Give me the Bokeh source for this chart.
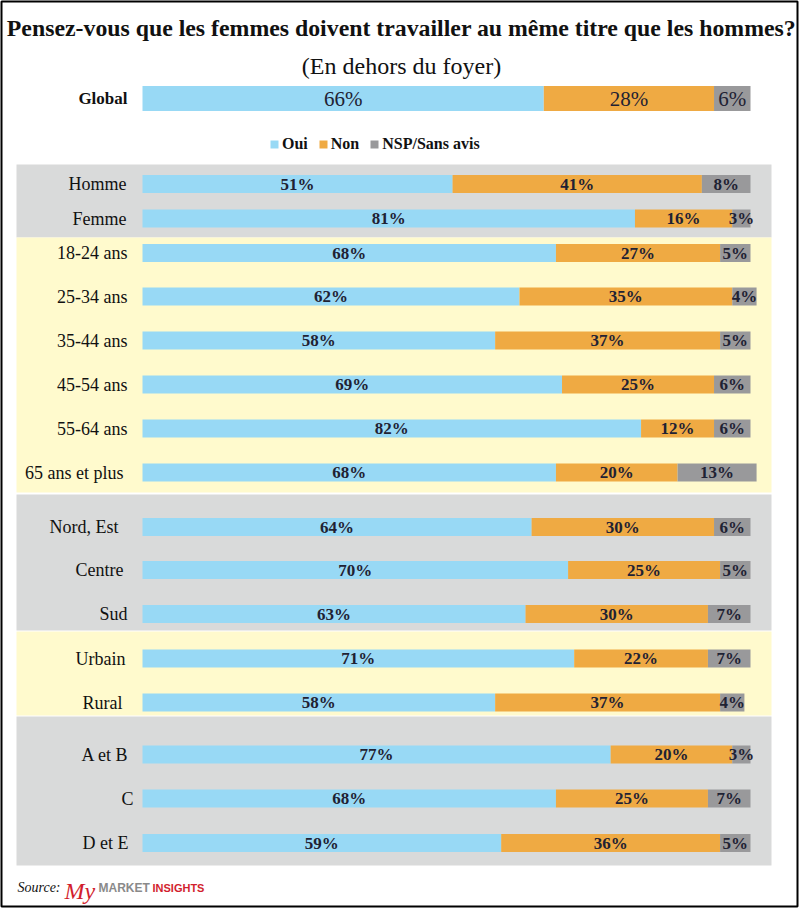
from bokeh.plotting import figure
from bokeh.models import Range1d, Label, ColumnDataSource, Legend, LegendItem
from bokeh.embed import file_html
from bokeh.resources import INLINE
from bokeh.core.properties import value

# ---------------- data ----------------
categories = ["Global", "Homme", "Femme", "18-24 ans", "25-34 ans", "35-44 ans",
              "45-54 ans", "55-64 ans", "65 ans et plus", "Nord, Est", "Centre",
              "Sud", "Urbain", "Rural", "A et B", "C", "D et E"]
oui = [66, 51, 81, 68, 62, 58, 69, 82, 68, 64, 70, 63, 71, 58, 77, 68, 59]
non = [28, 41, 16, 27, 35, 37, 25, 12, 20, 30, 25, 30, 22, 37, 20, 25, 36]
nsp = [6, 8, 3, 5, 4, 5, 6, 6, 13, 6, 5, 7, 7, 4, 3, 7, 5]
series_names = ["Oui", "Non", "NSP/Sans avis"]

title = "Pensez-vous que les femmes doivent travailler au même titre que les hommes?"
subtitle = "(En dehors du foyer)"

# ---------------- layout / styles ----------------
W, H = 800, 908
row_y = [98, 183.5, 218, 252.5, 296, 340, 384, 428, 472, 526.5, 569.5, 613.5,
         658, 702, 754, 798, 842.5]
label_end_px = [127, 126, 126, 127, 127, 127, 127, 127, 123, 118, 123, 127,
                125, 122, 128, 133, 128]
bar_h = [25] + [18] * 16
band_y = [(164, 237), (237, 492), (494, 630), (631, 715), (716, 865)]
band_colors = ["#D9DADA", "#FFFACD", "#D9DADA", "#FFFACD", "#D9DADA"]
colors = ["#98D9F5", "#EFAA43", "#99999B"]
PX_PER_PCT = 6.08
ZERO_PX = 142
FL, FR, FT, FB = 1, 3, 1, 2   # frame borders
SERIF_NAME = "Liberation Serif"
SANS_NAME = "Liberation Sans"
SERIF = value(SERIF_NAME)
TXT = "#1f2233"

frame_w = W - FL - FR
x_start = -(ZERO_PX - FL) / PX_PER_PCT
x_end = x_start + frame_w / PX_PER_PCT


def px2x(px):
    return x_start + (px - FL) / PX_PER_PCT


p = figure(width=W, height=H, output_backend="svg", toolbar_location=None,
           x_range=Range1d(x_start, x_end), y_range=Range1d(H - FB, FT),
           min_border_left=FL, min_border_right=FR, min_border_top=FT,
           min_border_bottom=FB, tools="")
p.axis.visible = False
p.grid.visible = False
p.outline_line_color = "black"
p.outline_line_width = 2
p.background_fill_color = "white"
p.border_fill_color = "white"

# background bands
p.quad(left=[px2x(16)] * len(band_y), right=[px2x(771)] * len(band_y),
       top=[b[0] for b in band_y], bottom=[b[1] for b in band_y],
       fill_color=band_colors, line_color=None)

# stacked bars
lefts = [[0] * len(oui), oui, [a + b for a, b in zip(oui, non)]]
vals = [oui, non, nsp]
renderers = []
for left, v, c in zip(lefts, vals, colors):
    src = ColumnDataSource(dict(y=row_y, left=left,
                                right=[l + x for l, x in zip(left, v)],
                                h=bar_h))
    r = p.hbar(y="y", left="left", right="right", height="h", source=src,
               fill_color=c, line_color=None)
    renderers.append(r)

# value labels
for left, v in zip(lefts, vals):
    xs = [l + x / 2 for l, x in zip(left, v)]
    txt = [f"{x}%" for x in v]
    p.text(x=xs[1:], y=row_y[1:], text=txt[1:], text_font=SERIF,
           text_font_style="bold", text_font_size="17px", text_color=TXT,
           text_align="center", text_baseline="middle")
    p.text(x=xs[:1], y=row_y[:1], text=txt[:1], text_font=SERIF,
           text_font_size="21px", text_color=TXT,
           text_align="center", text_baseline="middle")

# category labels
lx = [px2x(e) for e in label_end_px]
p.text(x=lx[1:], y=row_y[1:], text=categories[1:], text_font=SERIF,
       text_font_size="18px", text_color="#111111", text_align="right",
       text_baseline="middle")
p.text(x=lx[:1], y=row_y[:1], text=categories[:1], text_font=SERIF,
       text_font_style="bold", text_font_size="17px", text_color="#111111",
       text_align="right", text_baseline="middle")

# titles
p.add_layout(Label(x=W / 2, y=H - 29, x_units="screen", y_units="screen",
                   text=title, text_font=SERIF_NAME, text_font_style="bold",
                   text_font_size="23.8px", text_color="#111111",
                   text_align="center", text_baseline="middle"))
p.add_layout(Label(x=W / 2, y=H - 67, x_units="screen", y_units="screen",
                   text=subtitle, text_font=SERIF_NAME, text_font_size="24px",
                   text_color="#111111", text_align="center",
                   text_baseline="middle"))

# legend
legend = Legend(items=[LegendItem(label=n, renderers=[r])
                       for n, r in zip(series_names, renderers)],
                orientation="horizontal", location=(268, H - FB - 153),
                padding=0, margin=0, spacing=10, glyph_width=10,
                glyph_height=10, label_standoff=3,
                label_text_font=SERIF_NAME, label_text_font_style="bold",
                label_text_font_size="16px", label_text_color="#111111",
                border_line_color=None, background_fill_alpha=0)
p.add_layout(legend, "center")

# source line
p.add_layout(Label(x=16, y=H - 889, x_units="screen", y_units="screen",
                   text="Source:", text_font=SERIF_NAME, text_font_style="italic",
                   text_font_size="14px", text_color="#111111",
                   text_baseline="middle"))
p.add_layout(Label(x=63, y=H - 892, x_units="screen", y_units="screen",
                   text="My", text_font=SERIF_NAME, text_font_style="italic",
                   text_font_size="24px", text_color="#D21F2E",
                   text_baseline="middle"))
p.add_layout(Label(x=97, y=H - 889, x_units="screen", y_units="screen",
                   text="MARKET", text_font=SANS_NAME, text_font_style="bold",
                   text_font_size="12px", text_color="#8A8A8A",
                   text_baseline="middle"))
p.add_layout(Label(x=151, y=H - 889, x_units="screen", y_units="screen",
                   text="INSIGHTS", text_font=SANS_NAME, text_font_style="bold",
                   text_font_size="11px", text_color="#D21F2E",
                   text_baseline="middle"))

open("out.html", "w").write(file_html(p, INLINE))
